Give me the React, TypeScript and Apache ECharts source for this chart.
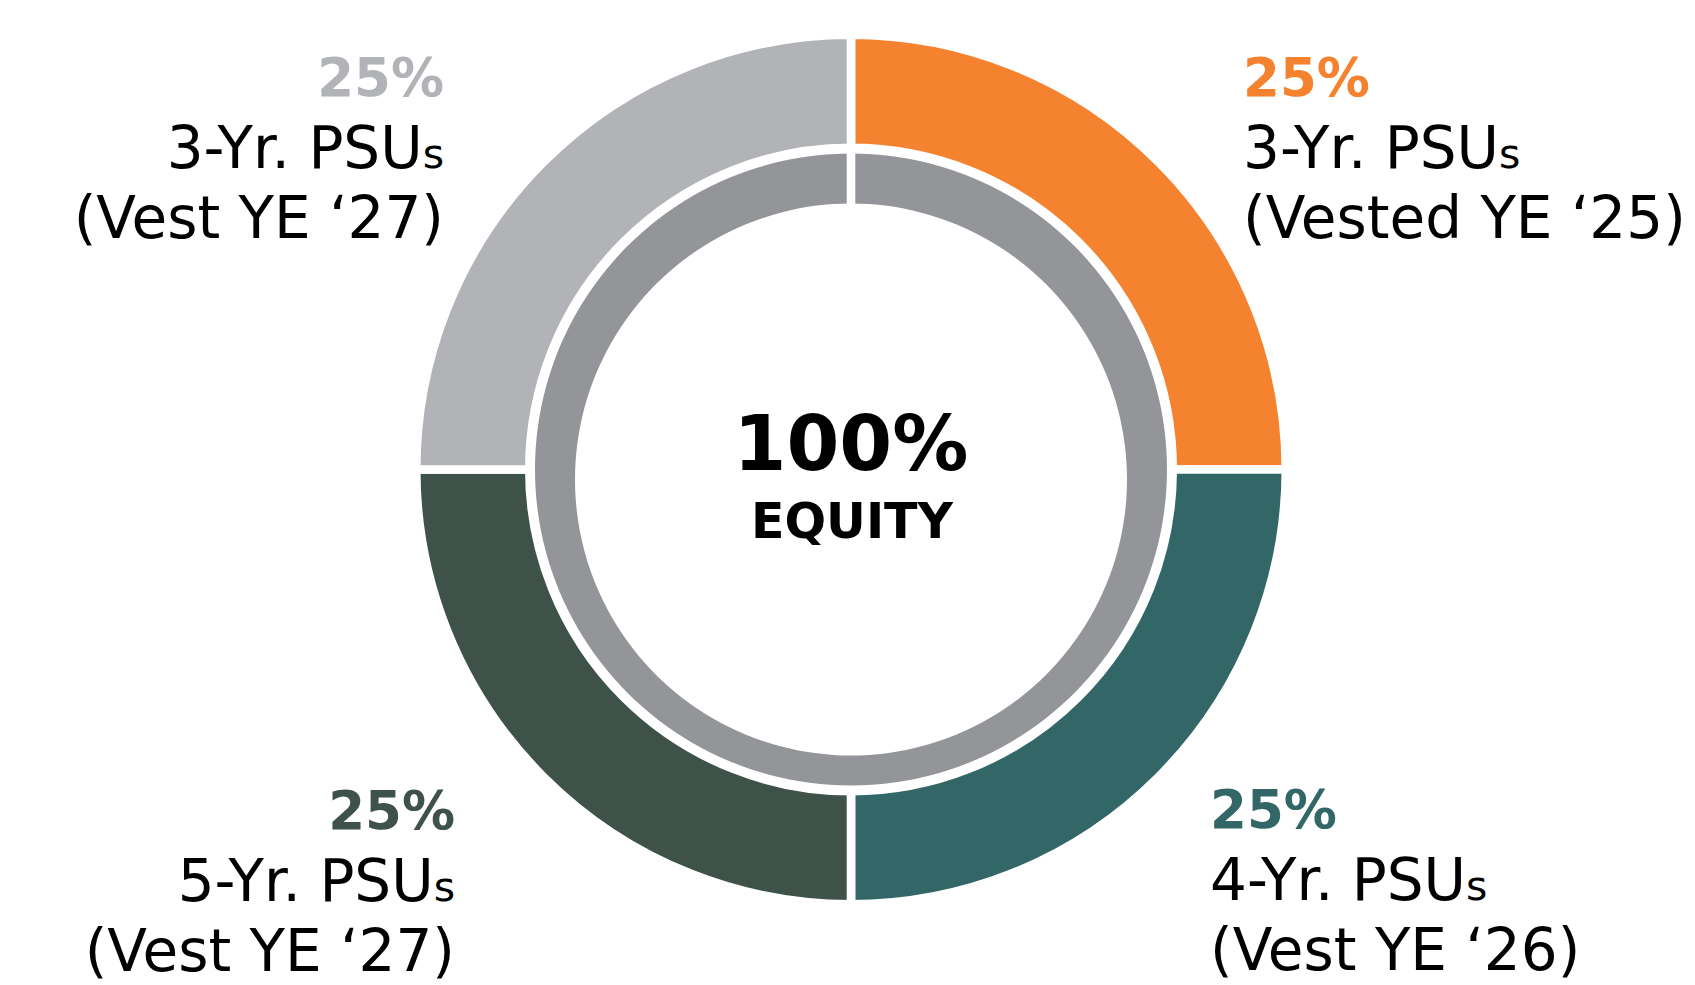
import React, { useEffect, useRef } from "react";
import * as echarts from "echarts";

// ---- data ----
const planNames = ["3-Yr. PSUs", "4-Yr. PSUs", "5-Yr. PSUs", "3-Yr. PSUs"];
const vestNotes = ["(Vested YE \u201825)", "(Vest YE \u201826)", "(Vest YE \u201827)", "(Vest YE \u201827)"];
const shares = [25, 25, 25, 25];
const sliceColors = ["#F5822E", "#336666", "#3E5249", "#B1B3B6"];
const centerCaption = "EQUITY";
const ringColor = "#939598";

const FONT = '"DejaVu Sans", "Liberation Sans", sans-serif';

// label anchor layout (x, top y, alignment) for each slice
const labelAnchors = [
  { x: 1243, y: 42.5, align: "left" },
  { x: 1210, y: 774.5, align: "left" },
  { x: 455, y: 775.5, align: "right" },
  { x: 444, y: 42.5, align: "right" },
];

export default function App() {
  const ref = useRef<HTMLDivElement>(null);

  useEffect(() => {
    if (!ref.current) return;
    const chart = echarts.init(ref.current, undefined, { renderer: "svg" });
    const total = shares.reduce((a, b) => a + b, 0);

    const data = shares.map((v, i) => {
      const align = labelAnchors[i].align;
      const name = planNames[i];
      return {
        value: v,
        name: name + " " + vestNotes[i],
        itemStyle: { color: sliceColors[i] },
        label: {
          formatter: `{p|${v}%}\n{t|${name.slice(0, -1)}}{s|${name.slice(-1)}}\n{t|${vestNotes[i]}}`,
          rich: {
            p: {
              fontFamily: FONT,
              fontWeight: "bold",
              fontSize: 53,
              color: sliceColors[i],
              lineHeight: 70,
              align,
              verticalAlign: "middle",
            },
            t: {
              fontFamily: FONT,
              fontSize: 58,
              color: "#000",
              lineHeight: 70,
              align,
              verticalAlign: "middle",
            },
            s: {
              fontFamily: FONT,
              fontSize: 41,
              color: "#000",
              verticalAlign: "middle",
              padding: [12, 0, 0, 0],
              align,
            },
          },
        },
      };
    });

    chart.setOption({
      animation: false,
      backgroundColor: "#fff",
      series: [
        {
          type: "pie",
          center: [851, 469.5],
          radius: [321.7, 434.8],
          startAngle: 90,
          clockwise: true,
          silent: true,
          avoidLabelOverlap: false,
          itemStyle: { borderColor: "#fff", borderWidth: 8.6 },
          label: { show: true, position: "outside" },
          labelLine: { show: false },
          labelLayout: (params: any) => {
            const a = labelAnchors[params.dataIndex];
            return { x: a.x, y: a.y, align: a.align, verticalAlign: "top" };
          },
          emphasis: { disabled: true },
          data,
        },
        {
          type: "pie",
          center: [851, 469.5],
          radius: [258, 316],
          startAngle: 90,
          silent: true,
          label: { show: false },
          labelLine: { show: false },
          emphasis: { disabled: true },
          data: [{ value: total, name: centerCaption, itemStyle: { color: ringColor } }],
        },
      ],
      graphic: [
        {
          type: "circle",
          z: 50,
          silent: true,
          shape: { cx: 851, cy: 479.5, r: 276 },
          style: { fill: "#fff" },
        },
        {
          type: "rect",
          z: 50,
          silent: true,
          shape: { x: 846.7, y: 145, width: 8.6, height: 75 },
          style: { fill: "#fff" },
        },
        {
          type: "text",
          z: 100,
          silent: true,
          style: {
            text: `${total}%`,
            x: 851,
            y: 443.5,
            font: `bold 76px ${FONT}`,
            fill: "#000",
            textAlign: "center",
            textVerticalAlign: "middle",
          },
        },
        {
          type: "text",
          z: 100,
          silent: true,
          style: {
            text: centerCaption,
            x: 852,
            y: 521.5,
            font: `bold 49px ${FONT}`,
            fill: "#000",
            textAlign: "center",
            textVerticalAlign: "middle",
          },
        },
      ],
    });

    return () => chart.dispose();
  }, []);

  return (
    <div
      ref={ref}
      style={{ position: "absolute", left: 0, top: 0, width: 1695, height: 985 }}
    />
  );
}
